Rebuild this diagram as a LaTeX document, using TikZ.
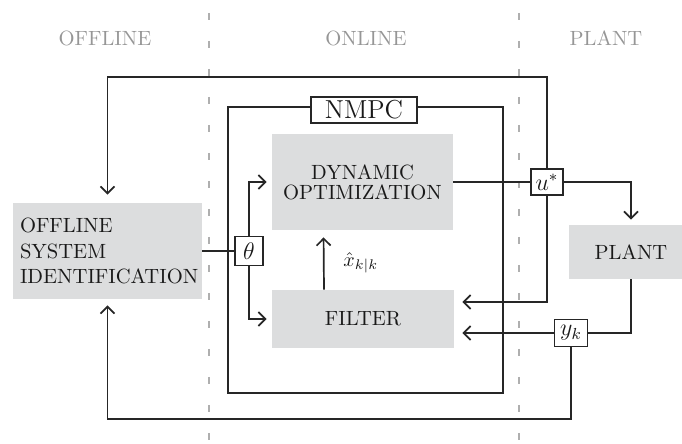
\documentclass[tikz,border=0pt]{standalone}
\usetikzlibrary{arrows.meta,calc}
\definecolor{boxgray}{RGB}{220,221,222}
\definecolor{labgray}{RGB}{150,150,150}
\definecolor{dashgray}{RGB}{175,175,175}
\begin{document}
\begin{tikzpicture}[x=0.5pt,y=-0.5pt,
  every node/.style={inner sep=0pt, text=black!90},
  graybox/.style={fill=boxgray, draw=none, align=center, font={\fontsize{10.3}{12}\selectfont}},
  sigbox/.style={draw=black!85, fill=white, line width=0.8pt},
  conn/.style={draw=black!85, line width=0.85pt},
  arr/.style={conn, -{Straight Barb[length=3.5pt,width=7pt,line width=0.85pt]}},
  dashline/.style={draw=dashgray, line width=0.7pt, dash pattern=on 3.5pt off 10.5pt},
  collabel/.style={text=labgray, font={\fontsize{10.3}{12}\selectfont}}
]
\useasboundingbox (0,0) rectangle (682,444);

% column separators
\draw[dashline] (209,13) -- (209,444);
\draw[dashline] (519,13) -- (519,444);

% column labels
\node[collabel] (loff) at (105,38) {OFFLINE};
\node[collabel] (lon) at (366,38) {ONLINE};
\node[collabel] (lpl) at (606,38) {PLANT};

% gray blocks
\node[graybox, minimum width=90.5pt, minimum height=48pt, font={\fontsize{10.3}{10}\selectfont}] (dyn) at (362.5,182) {DYNAMIC\\OPTIMIZATION};
\node[graybox, minimum width=91pt, minimum height=29pt] (filter) at (363,319) {FILTER};
\node[graybox, minimum width=94.5pt, minimum height=48pt, text width=87.5pt, align=left, font={\fontsize{10.3}{12.75}\selectfont}] (offid) at (107.5,251) {OFFLINE\\SYSTEM\\IDENTIFICATION};
\node[graybox, minimum width=62pt, minimum height=27pt] (plant) at (631,252) {PLANT};

% NMPC frame
\draw[conn] (228,107) rectangle (503,393);
\node[sigbox, minimum width=53pt, minimum height=13pt, font={\fontsize{13}{14}\selectfont}] (nmpc) at (364,110) {NMPC};

% signal boxes
\node[sigbox, minimum width=14pt, minimum height=14.5pt, font=\large] (theta) at (249,251) {$\theta$};
\node[sigbox, minimum width=16pt, minimum height=13pt, font=\large] (ustar) at (547,182) {$u^*$};
\node[sigbox, minimum width=16.5pt, minimum height=13.5pt, font=\large] (yk) at (571,333) {$y_k$};

% estimate label
\node[anchor=west] (xhat) at (343,263) {$\hat{x}_{k|k}$};

% helper coordinates
\coordinate (tl) at (107.5,77);
\coordinate (bl) at (107.5,419);

% connectors
\draw[conn] (offid.east) -- (theta.west);
\draw[arr, shorten >=2.5pt] (theta.north) |- (dyn.west);
\draw[arr, shorten >=2.5pt] (theta.south) |- (filter.west);
\draw[arr, shorten >=3.5pt] ([xshift=-19.5pt]filter.north) -- ([xshift=-19.5pt]dyn.south);
\draw[conn] (dyn.east) -- (ustar.west);
\draw[arr, shorten >=2.5pt] (ustar.east) -| (plant.north);
\draw[arr, shorten >=4pt] (ustar.south) |- ([yshift=8.5pt]filter.east);
\draw[conn] (plant.south) |- (yk.east);
\draw[arr, shorten >=4pt] (yk.west) -- (yk.west -| filter.east);
\draw[arr, shorten >=3pt] (yk.south) |- (bl) -- (offid.south);
\draw[arr, shorten >=4pt] (ustar.north) |- (tl) -- (offid.north);
\end{tikzpicture}
\end{document}
